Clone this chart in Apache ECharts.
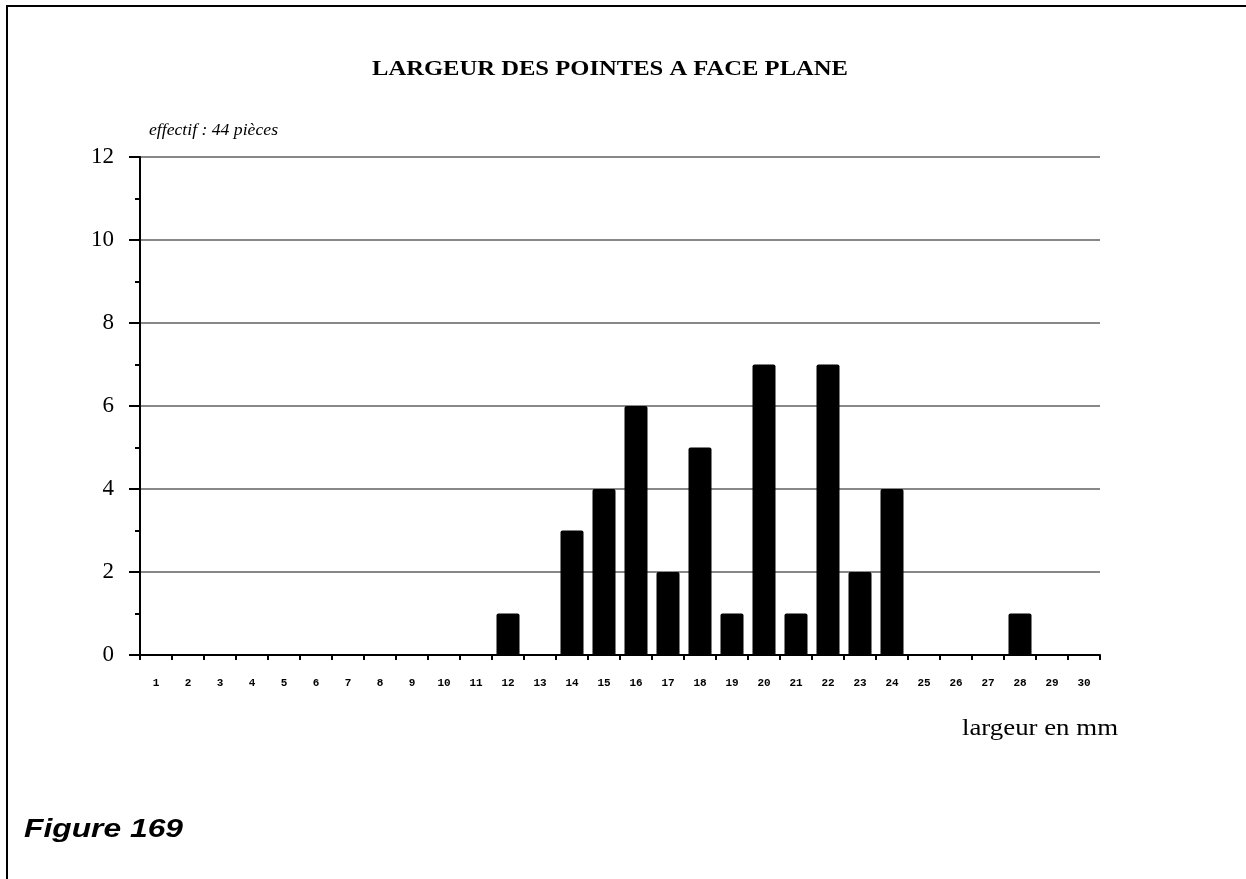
<!DOCTYPE html>
<html><head><meta charset="utf-8">
<script src="https://cdn.jsdelivr.net/npm/echarts@6/dist/echarts.min.js"></script>
<style>html,body{margin:0;padding:0;background:#fff}#c{width:1246px;height:879px}</style>
</head><body><div id="c"></div>
<script>
const categories = ['1','2','3','4','5','6','7','8','9','10','11','12','13','14','15','16','17','18','19','20','21','22','23','24','25','26','27','28','29','30'];
const counts = [0,0,0,0,0,0,0,0,0,0,0,1,0,3,4,6,2,5,1,7,1,7,2,4,0,0,0,1,0,0];
const yTicks = [0,2,4,6,8,10,12];
const titleText = 'LARGEUR DES POINTES A FACE PLANE';
const subtitleText = 'effectif : 44 pièces';
const xAxisName = 'largeur en mm';
const figureText = 'Figure 169';

const mctx = document.createElement('canvas').getContext('2d');
function stretchedText(text, font, left, y, targetWidth) {
  mctx.font = font;
  const w = mctx.measureText(text).width;
  return {type:'text', x:left, y:y, scaleX: targetWidth / w, silent:true,
    style:{text:text, font:font, fill:'#000', textAlign:'left', textVerticalAlign:'middle'}};
}

const chart = echarts.init(document.getElementById('c'), null, {renderer:'canvas'});
chart.setOption({
  animation:false,
  backgroundColor:'#fff',
  graphic:[
    {type:'rect',shape:{x:7,y:6,width:1400,height:1000},style:{fill:'none',stroke:'#000',lineWidth:2},silent:true},
    stretchedText(titleText, 'bold 21px "Liberation Serif"', 372, 70, 476),
    stretchedText(subtitleText, 'italic 17px "Liberation Serif"', 149, 131, 129),
    stretchedText(xAxisName, '23px "Liberation Serif"', 962, 729, 156),
    stretchedText(figureText, 'italic bold 25px "Liberation Sans"', 24, 830, 159)
  ],
  grid:{left:140,right:146,top:157,bottom:224,containLabel:false},
  xAxis:{
    type:'category',data:categories,boundaryGap:true,
    axisLine:{lineStyle:{color:'#000',width:2}},
    axisTick:{show:true,inside:false,length:5,alignWithLabel:false,lineStyle:{color:'#000',width:2}},
    axisLabel:{interval:0,margin:23,fontFamily:'Liberation Mono',fontWeight:'bold',fontSize:11,color:'#000'},
    splitLine:{show:false}
  },
  yAxis:{
    type:'value',min:yTicks[0],max:yTicks[yTicks.length-1],interval:2,
    axisLine:{show:true,lineStyle:{color:'#000',width:2}},
    axisTick:{show:true,inside:false,length:11,lineStyle:{color:'#000',width:2}},
    minorTick:{show:true,splitNumber:2,length:5,lineStyle:{color:'#000',width:2}},
    axisLabel:{margin:26,fontFamily:'Liberation Serif',fontSize:23,color:'#000'},
    splitLine:{show:true,lineStyle:{color:'#888',width:2}}
  },
  series:[{
    type:'bar',data:counts,barWidth:23,
    itemStyle:{color:'#000',borderRadius:[2,2,0,0]},
    z:3
  }]
});
</script></body></html>
